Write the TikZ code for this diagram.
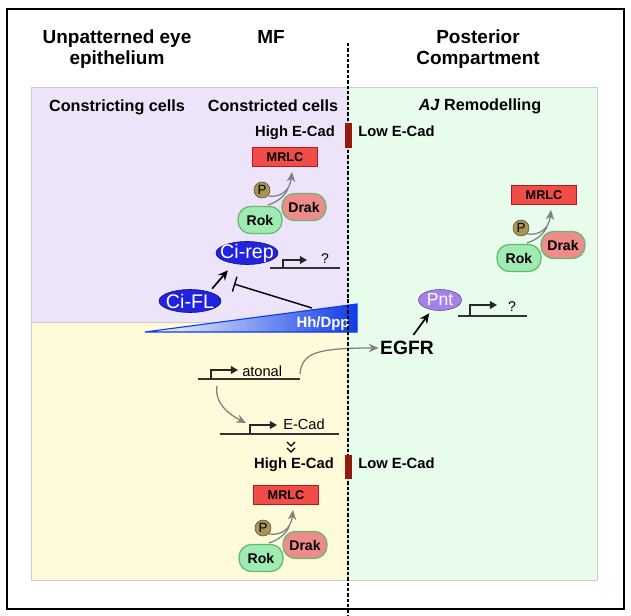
\documentclass[tikz,border=0pt]{standalone}
\usepackage{fontspec}
\setmainfont{Liberation Sans}
\usetikzlibrary{arrows.meta}
\usetikzlibrary{shapes.geometric}
\usetikzlibrary{calc}

\definecolor{bgpurple}{RGB}{238,228,250}
\definecolor{bgyellow}{RGB}{255,251,218}
\definecolor{bggreen}{RGB}{232,252,236}
\definecolor{mrlcred}{RGB}{240,76,72}
\definecolor{mrlcedge}{RGB}{170,30,30}
\definecolor{pgold}{RGB}{170,150,80}
\definecolor{rokgreen}{RGB}{160,235,180}
\definecolor{rokedge}{RGB}{100,185,110}
\definecolor{drakpink}{RGB}{238,140,140}
\definecolor{ciblue}{RGB}{34,34,225}
\definecolor{ciedge}{RGB}{20,20,90}
\definecolor{pntpurple}{RGB}{165,130,232}
\definecolor{pntedge}{RGB}{100,70,170}
\definecolor{cadred}{RGB}{150,25,15}
\definecolor{hhblue}{RGB}{15,60,230}
\definecolor{arrgray}{RGB}{128,128,128}

\tikzset{
    heading/.style={font=\fontsize{13.5}{15.5}\selectfont\bfseries, align=center, inner sep=0pt},
    subhead/.style={font=\fontsize{11.5}{14}\selectfont\bfseries, inner sep=0pt, anchor=base},
    cadlabel/.style={font=\fontsize{10.5}{12}\selectfont\bfseries, inner sep=0pt, anchor=base},
    mrlcbox/.style={draw=mrlcedge, fill=mrlcred, line width=0.8pt, minimum width=1.625cm, minimum height=0.47cm, inner sep=0pt, font=\fontsize{9}{11}\selectfont\bfseries},
    phos/.style={circle, draw=black!70, fill=pgold, minimum size=0.4cm, inner sep=0pt, font=\fontsize{9.5}{11}\selectfont},
    kinase/.style={draw=rokedge, line width=0.9pt, rounded corners=0.32cm, minimum width=1.1cm, minimum height=0.68cm, inner sep=0pt, font=\fontsize{10}{12}\selectfont\bfseries},
    rokbox/.style={kinase, fill=rokgreen},
    drakbox/.style={kinase, fill=drakpink},
    cibox/.style={ellipse, draw=ciedge, fill=ciblue, text=white, minimum width=1.55cm, minimum height=0.575cm, inner xsep=-12pt, inner ysep=-4pt, font=\fontsize{14}{16}\selectfont},
    pntbox/.style={ellipse, draw=pntedge, fill=pntpurple, text=white, minimum width=1.075cm, minimum height=0.525cm, inner xsep=-6pt, inner ysep=-4pt, font=\fontsize{12.5}{14}\selectfont},
    geneline/.style={draw=black!80, line width=0.9pt},
    promoter/.style={draw=black!85, line width=0.9pt, -{Triangle[length=5pt,width=5.5pt]}},
    genelabel/.style={font=\fontsize{10.4}{12}\selectfont, inner sep=0pt, anchor=base west},
    qmark/.style={font=\fontsize{10}{12}\selectfont, inner sep=0pt, anchor=base},
    grayarrow/.style={draw=arrgray, line width=0.9pt, -{Stealth[length=7pt,width=6pt]}},
    blackarrow/.style={draw=black, line width=1.2pt, -{Stealth[length=7pt,width=6.5pt]}},
}

\begin{document}
\begin{tikzpicture}[x=0.025cm, y=-0.025cm]
    \useasboundingbox (0,0) rectangle (631,616);

    % compartments
    \filldraw[fill=bgpurple, draw=black!20] (31,87) rectangle (347,322);
    \filldraw[fill=bgyellow, draw=black!20] (31,322) rectangle (347,580);
    \filldraw[fill=bggreen, draw=black!20] (347,87) rectangle (597,580);
    \draw[line width=1pt] (7,9) rectangle (624,609);

    \node[heading] (unpat) at (117,49) {Unpatterned eye\\epithelium};
    \node[heading] (mf) at (271,37) {MF};
    \node[heading] (posthead) at (478,49) {Posterior\\Compartment};

    \node[subhead] (constricting) at (117,112) {Constricting cells};
    \node[subhead] (constricted) at (273,112) {Constricted cells};
    \node[subhead] (remod) at (480,111) {\textit{AJ} Remodelling};

    \node[cadlabel] (hitop) at (295,137) {High E-Cad};
    \node[cadlabel, anchor=base west] (lotop) at (358,137) {Low E-Cad};
    \node[cadlabel] (hibot) at (294,468) {High E-Cad};
    \node[cadlabel, anchor=base west] (lobot) at (358,468) {Low E-Cad};

    % Rok / Drak -> MRLC
    \foreach \cl/\px/\py in {top/262/190, bot/263/528, post/521/228}{
        \node[mrlcbox] (mrlc\cl) at (\px+23,\py-33) {MRLC};
        \node[phos] (p\cl) at (\px,\py) {P};
        \coordinate (tip\cl) at (\px+30,\py-18);
        \draw[grayarrow] (p\cl.south east) .. controls (\px+18,\py+8) and (\px+28,\py+1) .. (tip\cl);
        \draw[draw=arrgray, line width=0.9pt] (\px+6,\py+15) .. controls (\px+15,\py+12) and (\px+22,\py+7) .. (\px+26,\py-1);
        \node[rokbox] (rok\cl) at (\px-2,\py+30) {Rok};
        \node[drakbox] (drak\cl) at (\px+42,\py+17) {Drak};
    }

    % Ci
    \node[cibox] (cirep) at (247,253) {Ci-rep};
    \node[cibox] (cifl) at (190,301) {Ci-FL};
    \draw[blackarrow] ($(cifl.north east)+(0,-4)$) -- ($(cirep.south west)+(3,9)$);

    \coordinate (qtopl) at (270,268);
    \coordinate (qtopr) at (340,268);
    \draw[geneline] (qtopl) -- (qtopr);
    \draw[promoter] (283,268) |- (307,260);
    \node[qmark] (qtop) at (325,264) {?};

    % Hh/Dpp gradient
    \shade[left color=white, right color=hhblue, draw=hhblue, line width=0.8pt] (145,332) -- (357,304) -- (357,332) -- cycle;
    \node[font=\fontsize{10.6}{12}\selectfont\bfseries, text=white, inner sep=0pt, anchor=base] (hhdpp) at (323,327) {Hh/Dpp};
    \coordinate (hhinh) at (312,308);
    \coordinate (cirepinh) at (234,284);
    \draw[line width=1pt, -{Bar[width=11pt]}] (hhinh) -- (cirepinh);

    % atonal -> EGFR, E-Cad
    \coordinate (atonall) at (198,379);
    \coordinate (atonalr) at (300,379);
    \draw[geneline] (atonall) -- (atonalr);
    \draw[promoter] (211,379) |- (238,370);
    \node[genelabel] (atonal) at (242,376) {atonal};

    \node[font=\fontsize{13.7}{16}\selectfont\bfseries, inner sep=1pt] (egfr) at (407,348) {EGFR};
    \coordinate (atonalout) at (300,374);
    \draw[grayarrow] (atonalout) .. controls (302,353) and (316,348) .. (egfr.west);

    \node[pntbox] (pnt) at (440,300) {Pnt};
    \draw[blackarrow, shorten <=4pt, shorten >=3pt] (egfr.70) -- (pnt.230);
    \coordinate (qpostl) at (458,316);
    \coordinate (qpostr) at (527,316);
    \draw[geneline] (qpostl) -- (qpostr);
    \draw[promoter] (470,316) |- (497,305);
    \node[qmark] (qpost) at (512,311) {?};

    \coordinate (atonaldown) at (217,386);
    \coordinate (ecadin) at (246,423);
    \draw[grayarrow] (atonaldown) .. controls (214,402) and (228,414) .. (ecadin);
    \coordinate (ecadl) at (220,434);
    \coordinate (ecadr) at (339,434);
    \draw[geneline] (ecadl) -- (ecadr);
    \draw[promoter] (250,434) |- (277,425);
    \node[genelabel] (ecad) at (283,429) {E-Cad};
    \draw[line width=0.9pt] (287,442) -- (291,446) -- (295,442);
    \draw[line width=0.9pt] (287,448) -- (291,452) -- (295,448);

    % MF boundary
    \draw[line width=2pt, dash pattern=on 2.4pt off 1.4pt] (348,43) -- (348,616);
    \fill[cadred] (345,123) rectangle (352,148);
    \fill[cadred] (345,455) rectangle (352,479);
\end{tikzpicture}
\end{document}
